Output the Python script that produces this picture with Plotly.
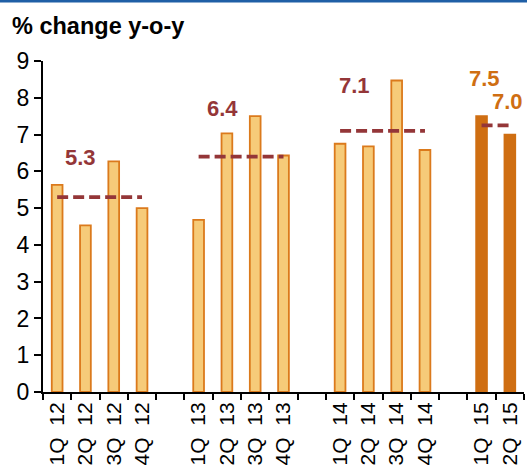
import plotly.graph_objects as go

# Quarterly GDP growth, % change y-o-y
quarters = ["1Q 12", "2Q 12", "3Q 12", "4Q 12", " ",
            "1Q 13", "2Q 13", "3Q 13", "4Q 13", "  ",
            "1Q 14", "2Q 14", "3Q 14", "4Q 14", "   ",
            "1Q 15", "2Q 15"]
growth = [5.63, 4.53, 6.27, 5.0, None,
          4.68, 7.03, 7.5, 6.43, None,
          6.75, 6.68, 8.47, 6.58, None,
          7.5, 7.0]
forecast = ["1Q 15", "2Q 15"]

# Annual averages (labelled) and the first-half 2015 average
years = [["1Q 12", "4Q 12"], ["1Q 13", "4Q 13"], ["1Q 14", "4Q 14"]]
annual_avg = [5.3, 6.4, 7.1]
h1_2015 = [7.5, 7.0]

LIGHT = "#F6CB79"
EDGE = "#DB7A1C"
DARK = "#CF6E12"
RED = "#943638"
FONT = "Liberation Sans, Arial, sans-serif"

fig = go.Figure()

hist_x = [q for q, v in zip(quarters, growth) if v is not None and q not in forecast]
hist_y = [v for q, v in zip(quarters, growth) if v is not None and q not in forecast]
fc_y = [growth[quarters.index(q)] for q in forecast]

fig.add_trace(go.Bar(x=hist_x, y=hist_y, width=0.38,
                     marker=dict(color=LIGHT, line=dict(color=EDGE, width=1.8))))
fig.add_trace(go.Bar(x=forecast, y=fc_y, width=0.38,
                     marker=dict(color=DARK, line=dict(color=DARK, width=1.8))))

for (q0, q1), avg in zip(years, annual_avg):
    fig.add_trace(go.Scatter(x=[q0, q1], y=[avg, avg], mode="lines",
                             line=dict(color=RED, width=3.8, dash="11px,5px")))
h1_avg = sum(h1_2015) / len(h1_2015)
fig.add_trace(go.Scatter(x=forecast, y=[h1_avg, h1_avg], mode="lines",
                         line=dict(color=RED, width=3.8, dash="11px,5px")))

annotations = []
# average labels
for (anchor, dx, dy), avg in zip([("2Q 12", -5, 40), ("2Q 13", -4, 48), ("1Q 14", 14, 45)],
                                 annual_avg):
    annotations.append(dict(x=anchor, y=avg, text=f"{avg:.1f}", showarrow=False,
                            xshift=dx, yshift=dy, yanchor="middle",
                            font=dict(family=FONT, size=22, color=RED, weight="bold")))
# forecast value labels
for q, dx, dy in [("1Q 15", 3, 38), ("2Q 15", -2, 33)]:
    v = growth[quarters.index(q)]
    annotations.append(dict(x=q, y=v, text=f"{v:.1f}", showarrow=False,
                            xshift=dx, yshift=dy, yanchor="middle",
                            font=dict(family=FONT, size=22, color=DARK, weight="bold")))

fig.update_layout(
    width=527, height=472,
    margin=dict(l=43, r=3, t=61, b=80),
    plot_bgcolor="white", paper_bgcolor="white",
    showlegend=False, barmode="overlay",
    title=dict(text="% change y-o-y", x=12 / 527, xanchor="left", xref="container",
               y=1 - 26 / 472, yanchor="middle", yref="container",
               font=dict(family=FONT, size=23.5, color="black", weight="bold")),
    annotations=annotations,
    shapes=[dict(type="rect", xref="paper", yref="paper",
                 x0=-43 / 481, x1=484 / 481, y0=1 + 58.5 / 331, y1=1 + 62 / 331,
                 fillcolor="#1F5FA6", line=dict(width=0))],
)
fig.update_xaxes(type="category", categoryorder="array", categoryarray=quarters,
                 tickmode="array", tickvals=quarters,
                 ticktext=[q.replace(" ", "  ") if q.strip() else "" for q in quarters],
                 range=[-0.5, len(quarters) - 0.5],
                 tickson="boundaries", ticks="outside", ticklen=6, tickwidth=1.5,
                 tickcolor="black", showline=True, linecolor="black", linewidth=2,
                 tickangle=-90, automargin=False, showgrid=False,
                 tickfont=dict(family=FONT, size=21, color="black"))
fig.update_yaxes(range=[0, 9], dtick=1, ticks="outside", ticklen=7, tickwidth=1.5,
                 tickcolor="black", showline=True, linecolor="black", linewidth=2,
                 showgrid=False, zeroline=False, automargin=False,
                 tickfont=dict(family=FONT, size=23, color="black"))

fig.write_html("out.html")
